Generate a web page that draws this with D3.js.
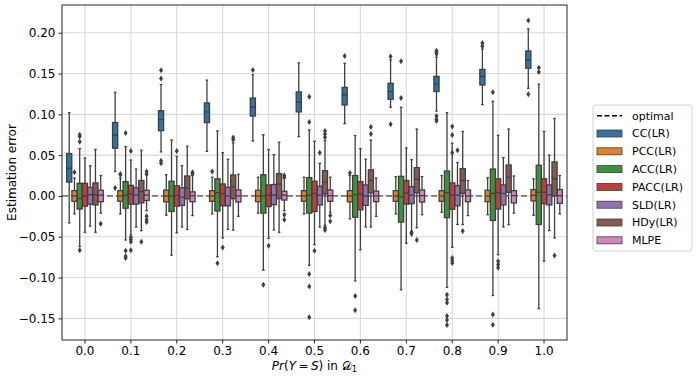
<!DOCTYPE html>
<html>
<head>
<meta charset="utf-8">
<script src="https://cdnjs.cloudflare.com/ajax/libs/d3/7.8.5/d3.min.js"></script>
<style>
body{margin:0;background:#fff}
text{font-family:"DejaVu Sans",sans-serif;fill:#000}
</style>
</head>
<body>
<svg id="chart" width="698" height="378"></svg>
<script>
// data: [whisker low, q1, median, q3, whisker high, outliers]
var categories = ['0.0','0.1','0.2','0.3','0.4','0.5','0.6','0.7','0.8','0.9','1.0']
var series = ['CC(LR)','PCC(LR)','ACC(LR)','PACC(LR)','SLD(LR)','HDy(LR)','MLPE']
var colors = ['#3274a1','#e1812c','#3a923a','#c03d3e','#9372b2','#845b53','#d684bd']
var yTicks = [-0.15,-0.10,-0.05,0.00,0.05,0.10,0.15,0.20]

var cc = [
	[-0.033, 0.017, 0.034, 0.052, 0.102, []],
	[0.030, 0.0585, 0.0745, 0.090, 0.127, [0.0098]],
	[0.054, 0.080, 0.0935, 0.1045, 0.1365, [0.154, 0.144, 0.043, 0.040]],
	[0.0547, 0.090, 0.103, 0.114, 0.142, []],
	[0.0674, 0.098, 0.109, 0.120, 0.1487, [0.1544]],
	[0.0727, 0.103, 0.115, 0.1275, 0.163, []],
	[0.0886, 0.1115, 0.1238, 0.133, 0.1626, [0.1716]],
	[0.1087, 0.1185, 0.128, 0.138, 0.1667, [0.171, 0.088]],
	[0.104, 0.128, 0.137, 0.1465, 0.170, [0.178, 0.176, 0.174, 0.098, 0.094, 0.092]],
	[0.112, 0.136, 0.1466, 0.155, 0.180, [0.1875, 0.1834]],
	[0.132, 0.1565, 0.1667, 0.1777, 0.2047, [0.215, 0.1246]]
]
var pcc = [
	[-0.022, -0.0065, 0, 0.0065, 0.022, [0.029]],
	[-0.022, -0.0065, 0, 0.0065, 0.022, [0.027, 0.026]],
	[-0.0235, -0.0072, 0, 0.0072, 0.026, []],
	[-0.022, -0.0065, 0, 0.0065, 0.023, [0.030]],
	[-0.021, -0.007, 0, 0.007, 0.023, []],
	[-0.022, -0.0065, 0, 0.0065, 0.023, []],
	[-0.028, -0.0072, 0, 0.0065, 0.025, [0.028]],
	[-0.022, -0.0065, 0, 0.0065, 0.0237, []],
	[-0.020, -0.0065, 0, 0.0065, 0.025, []],
	[-0.023, -0.007, 0, 0.007, 0.0225, []],
	[-0.0237, -0.006, 0.0008, 0.0078, 0.021, []]
]
var acc = [
	[-0.062, -0.016, -0.003, 0.0155, 0.058, [0.075, 0.073, 0.0665, -0.0665]],
	[-0.054, -0.015, 0.001, 0.0175, 0.0605, [0.077, -0.067, -0.074, -0.076]],
	[-0.0725, -0.019, 0, 0.018, 0.0685, []],
	[-0.0745, -0.0184, 0.004, 0.021, 0.0797, [-0.0825]],
	[-0.091, -0.021, 0, 0.026, 0.075, [-0.1087]],
	[-0.085, -0.021, 0.001, 0.0225, 0.081, [0.1217, 0.0907, -0.0956, -0.111, -0.1487]],
	[-0.104, -0.026, 0.0016, 0.025, 0.074, [-0.1225, -0.140]],
	[-0.115, -0.032, -0.001, 0.024, 0.1087, [0.165, 0.120]],
	[-0.112, -0.0266, 0.004, 0.0306, 0.102, [-0.121, -0.127, -0.131, -0.147, -0.152, -0.158]],
	[-0.122, -0.030, 0.003, 0.033, 0.116, [0.127, -0.1454, -0.1577]],
	[-0.138, -0.035, 0.0045, 0.0376, 0.137, [0.157, 0.152]]
]
var pacc = [
	[-0.0445, -0.0125, 0, 0.0155, 0.0465, []],
	[-0.0475, -0.010, 0.0025, 0.013, 0.044, [0.055, -0.0507, -0.0535, -0.056, -0.0665]],
	[-0.045, -0.0125, 0.001, 0.0125, 0.0485, [0.055]],
	[-0.0515, -0.012, 0.003, 0.0147, 0.053, [-0.063]],
	[-0.052, -0.013, 0.001, 0.0135, 0.0568, [-0.061]],
	[-0.0596, -0.019, 0.003, 0.018, 0.067, [-0.067]],
	[-0.066, -0.017, 0.0025, 0.0175, 0.058, []],
	[-0.058, -0.010, 0.0037, 0.019, 0.0588, []],
	[-0.063, -0.0163, 0.001, 0.016, 0.0646, [0.085, 0.0748, 0.053, -0.076, -0.079, -0.082]],
	[-0.072, -0.016, 0.004, 0.021, 0.0743, [-0.080, -0.084, -0.088]],
	[-0.080, -0.0094, 0.0045, 0.021, 0.079, []]
]
var sld = [
	[-0.037, -0.010, 0.0015, 0.0105, 0.037, []],
	[-0.038, -0.010, 0.001, 0.010, 0.033, []],
	[-0.038, -0.0115, -0.0015, 0.010, 0.037, []],
	[-0.041, -0.012, 0, 0.0106, 0.045, []],
	[-0.0417, -0.0106, 0.001, 0.014, 0.0506, []],
	[-0.038, -0.011, 0.001, 0.012, 0.040, [0.053]],
	[-0.038, -0.0115, 0, 0.0135, 0.045, []],
	[-0.0433, -0.0094, 0.001, 0.0114, 0.0445, [-0.045, -0.0466]],
	[-0.035, -0.012, 0.001, 0.0127, 0.041, [0.056]],
	[-0.038, -0.011, 0.003, 0.0135, 0.047, []],
	[-0.0425, -0.011, 0.0016, 0.0135, 0.050, []]
]
var hdy = [
	[-0.0445, -0.011, 0.0015, 0.016, 0.057, []],
	[-0.0425, -0.0085, 0.0055, 0.019, 0.056, [-0.056]],
	[-0.041, -0.0035, 0.0098, 0.0245, 0.061, []],
	[-0.042, -0.0033, 0.0114, 0.0257, 0.065, [0.0715, 0.069]],
	[-0.0445, -0.0033, 0.0147, 0.0274, 0.0658, []],
	[-0.036, 0.0025, 0.017, 0.031, 0.068, [0.0795, 0.076, 0.072, -0.039, -0.0417]],
	[-0.038, 0.0037, 0.019, 0.032, 0.0686, [0.0846, 0.076]],
	[-0.039, 0.0037, 0.0204, 0.0347, 0.082, [-0.054]],
	[-0.035, 0.003, 0.019, 0.0335, 0.079, [-0.043]],
	[-0.035, 0.0045, 0.0229, 0.038, 0.082, []],
	[-0.0515, 0, 0.021, 0.0417, 0.095, [-0.073]]
]
var mlpe = [
	[-0.021, -0.007, 0.001, 0.007, 0.025, [-0.034]],
	[-0.018, -0.0055, 0.001, 0.007, 0.026, [0.030, 0.027, -0.025, -0.029, -0.032]],
	[-0.024, -0.007, 0.0004, 0.005, 0.025, [0.029, 0.027]],
	[-0.025, -0.0074, 0, 0.0074, 0.0265, []],
	[-0.018, -0.005, 0.001, 0.0057, 0.022, [0.025, 0.023, -0.023, -0.029]],
	[-0.020, -0.0065, 0.0004, 0.0074, 0.023, [-0.024, -0.031]],
	[-0.025, -0.007, 0, 0.006, 0.022, []],
	[-0.023, -0.0074, 0.0004, 0.0074, 0.0237, []],
	[-0.024, -0.007, 0, 0.0074, 0.019, []],
	[-0.021, -0.0086, 0.0004, 0.0065, 0.0245, []],
	[-0.022, -0.009, 0.0004, 0.0078, 0.025, []]
]
var seriesData = [cc, pcc, acc, pacc, sld, hdy, mlpe]

function chart(){
	var svg = d3.select('svg#chart')
	var left = 62, right = 567, top = 5, bottom = 340
	var edge = '#3f3f3f'

	var x = d3.scaleBand()
		.domain(categories)
		.range([left, right])
		.padding(0)
	var y = d3.scaleLinear()
		.domain([-0.1765, 0.234])
		.range([bottom, top])

	// grid
	svg.append('g')
		.selectAll('line.hgrid')
		.data(yTicks)
		.enter()
		.append('line')
		.attr('x1', left).attr('x2', right)
		.attr('y1', function(d){return y(d)})
		.attr('y2', function(d){return y(d)})
		.style('stroke', '#d9d9d9')
		.style('stroke-width', 1.1)
	svg.append('g')
		.selectAll('line.vgrid')
		.data(categories)
		.enter()
		.append('line')
		.attr('y1', top).attr('y2', bottom)
		.attr('x1', function(d){return x(d) + x.bandwidth()/2})
		.attr('x2', function(d){return x(d) + x.bandwidth()/2})
		.style('stroke', '#d9d9d9')
		.style('stroke-width', 1.1)

	// optimal line
	svg.append('line')
		.attr('x1', left).attr('x2', right)
		.attr('y1', y(0)).attr('y2', y(0))
		.style('stroke', '#7a7a7a')
		.style('stroke-width', 1.8)
		.style('stroke-dasharray', '6,3')

	var slot = x.bandwidth()*0.8/series.length
	var bw = slot*0.98
	var diamond = 'M0,-3L2,0L0,3L-2,0Z'

	seriesData.forEach(function(rows, j){
		var g = svg.append('g')
		rows.forEach(function(r, i){
			var cx = x(categories[i]) + x.bandwidth()*0.1 + (j + 0.5)*slot
			g.append('line')
				.attr('x1', cx).attr('x2', cx)
				.attr('y1', y(r[3])).attr('y2', y(r[4]))
				.style('stroke', edge).style('stroke-width', 1.3)
			g.append('line')
				.attr('x1', cx).attr('x2', cx)
				.attr('y1', y(r[1])).attr('y2', y(r[0]))
				.style('stroke', edge).style('stroke-width', 1.3)
			g.selectAll(null)
				.data([r[0], r[4]])
				.enter()
				.append('line')
				.attr('x1', cx - bw/4).attr('x2', cx + bw/4)
				.attr('y1', function(d){return y(d)})
				.attr('y2', function(d){return y(d)})
				.style('stroke', edge).style('stroke-width', 1.3)
			g.append('rect')
				.attr('x', cx - bw/2)
				.attr('y', y(r[3]))
				.attr('width', bw)
				.attr('height', y(r[1]) - y(r[3]))
				.style('fill', colors[j])
				.style('stroke', edge)
				.style('stroke-width', 1.3)
			g.append('line')
				.attr('x1', cx - bw/2).attr('x2', cx + bw/2)
				.attr('y1', y(r[2])).attr('y2', y(r[2]))
				.style('stroke', edge).style('stroke-width', 1.3)
			g.selectAll(null)
				.data(r[5])
				.enter()
				.append('path')
				.attr('d', diamond)
				.attr('transform', function(d){return 'translate(' + cx + ',' + y(d) + ')'})
				.style('fill', edge)
		})
	})

	// frame
	svg.append('rect')
		.attr('x', left).attr('y', top)
		.attr('width', right - left).attr('height', bottom - top)
		.style('fill', 'none')
		.style('stroke', '#262626')
		.style('stroke-width', 1)

	// axes
	var fmt = function(d){return d3.format('.2f')(d).replace('-', '\u2212')}
	var ya = svg.append('g')
		.attr('transform', 'translate(' + left + ',0)')
		.call(d3.axisLeft(y).tickValues(yTicks).tickFormat(fmt).tickSize(3.5).tickPadding(3))
	var xa = svg.append('g')
		.attr('transform', 'translate(0,' + bottom + ')')
		.call(d3.axisBottom(x).tickSize(3.5).tickPadding(2.5))
	;[ya, xa].forEach(function(a){
		a.select('.domain').remove()
		a.selectAll('line').style('stroke', '#262626').style('stroke-width', 1)
		a.selectAll('text').style('font-size', '12px').style('font-family', '"DejaVu Sans",sans-serif').style('fill', '#000')
	})

	svg.append('text')
		.attr('transform', 'translate(16,' + ((top + bottom)/2) + ') rotate(-90)')
		.attr('text-anchor', 'middle')
		.style('font-size', '12px')
		.text('Estimation error')

	var xl = svg.append('text')
		.attr('x', (left + right)/2)
		.attr('y', 369.5)
		.attr('text-anchor', 'middle')
		.style('font-size', '12px')
	var parts = [['Pr', 'italic'], ['(', 'normal'], ['Y', 'italic'], ['\u2009=\u2009', 'normal'], ['S', 'italic'], [') in ', 'normal'], ['\ud835\udc9f', 'normal']]
	parts.forEach(function(p){
		xl.append('tspan').style('font-style', p[1]).text(p[0])
	})
	xl.append('tspan').attr('dy', 2.5).style('font-size', '8.5px').text('1')

	// legend
	var lg = svg.append('g')
	lg.append('rect')
		.attr('x', 593).attr('y', 105)
		.attr('width', 99).attr('height', 146)
		.attr('rx', 3)
		.style('fill', '#fff')
		.style('stroke', '#d0d0d0')
		.style('stroke-width', 1)
	var ly = function(i){return 115.7 + i*17.8}
	lg.append('line')
		.attr('x1', 597).attr('x2', 622)
		.attr('y1', ly(0)).attr('y2', ly(0))
		.style('stroke', '#000')
		.style('stroke-width', 1.5)
		.style('stroke-dasharray', '5,2.5')
	lg.append('text')
		.attr('x', 632).attr('y', ly(0))
		.attr('dy', '0.35em')
		.style('font-size', '11px')
		.text('optimal')
	series.forEach(function(s, i){
		lg.append('rect')
			.attr('x', 597).attr('y', ly(i + 1) - 3.5)
			.attr('width', 25).attr('height', 7)
			.style('fill', colors[i])
			.style('stroke', edge)
			.style('stroke-width', 0.8)
		lg.append('text')
			.attr('x', 632).attr('y', ly(i + 1))
			.attr('dy', '0.35em')
			.style('font-size', '11px')
			.text(s)
	})
}
chart()
</script>
</body>
</html>
